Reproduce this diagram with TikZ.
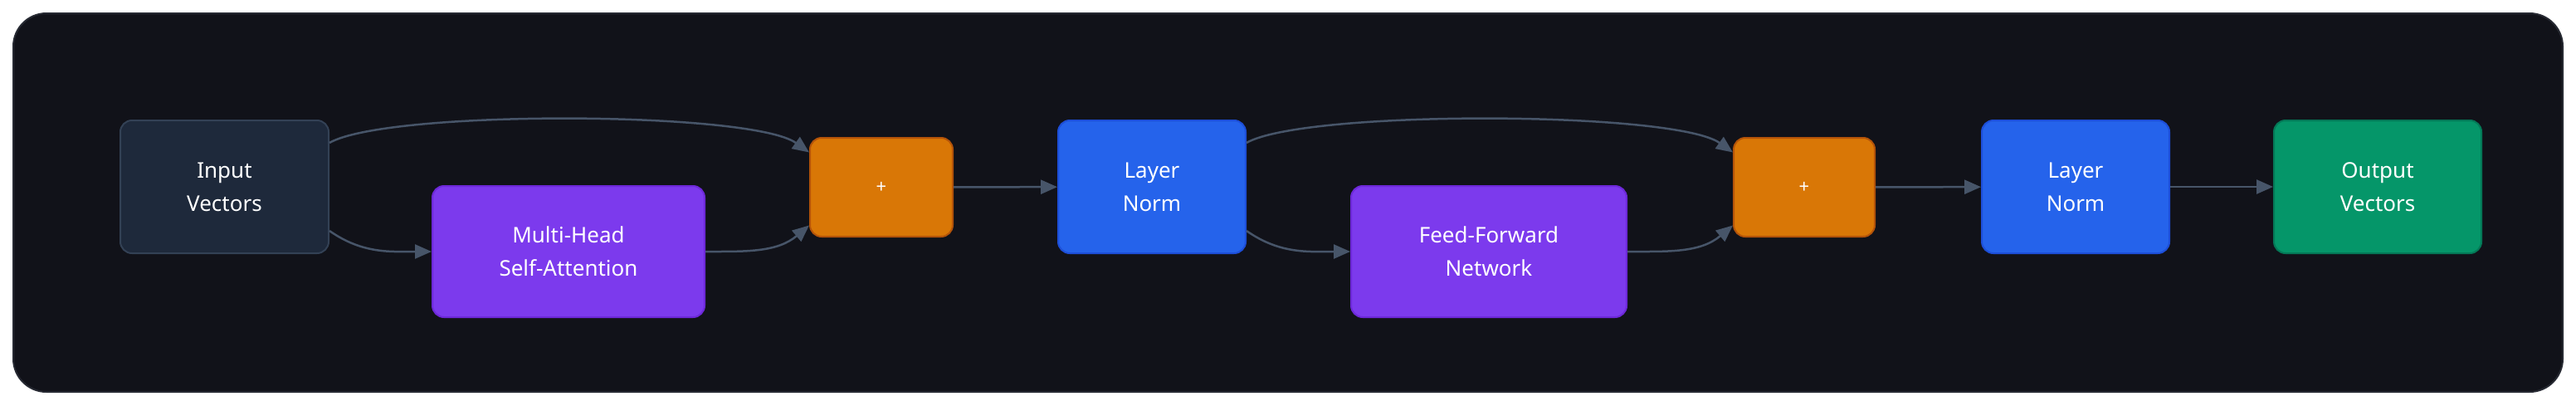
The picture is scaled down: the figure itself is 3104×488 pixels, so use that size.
\documentclass[tikz,border=0pt]{standalone}
\usepackage{fontspec}
\setmainfont{Noto Sans}
\usetikzlibrary{arrows.meta}

\definecolor{panelbg}{HTML}{111219}
\definecolor{panelline}{HTML}{262932}
\definecolor{edgegray}{HTML}{475569}
\definecolor{inputfill}{HTML}{1E293B}
\definecolor{inputline}{HTML}{334155}
\definecolor{attnfill}{HTML}{7C3AED}
\definecolor{attnline}{HTML}{6D28D9}
\definecolor{addfill}{HTML}{D97706}
\definecolor{addline}{HTML}{B45309}
\definecolor{normfill}{HTML}{2563EB}
\definecolor{normline}{HTML}{1D4ED8}
\definecolor{outfill}{HTML}{059669}
\definecolor{outline}{HTML}{047857}

\tikzset{
  box/.style={rounded corners=14pt, line width=2pt, text=white,
    font=\fontsize{26}{40}\selectfont, align=center, inner sep=0pt},
  edge/.style={draw=edgegray, line width=2.5pt,
    -{Triangle[length=20pt,width=17pt]}},
}

\begin{document}
\begin{tikzpicture}[x=1pt,y=-1pt]
  \useasboundingbox (0,0) rectangle (3104,488);
  \fill[white] (0,0) rectangle (3104,488);
  \filldraw[fill=panelbg, draw=panelline, line width=2pt, rounded corners=40pt] (16,16) rectangle (3088,472);

  % blocks
  \node[box, fill=inputfill, draw=inputline, minimum width=251pt, minimum height=160pt] (in) at (270.5,225) {Input\\Vectors};
  \node[box, fill=attnfill, draw=attnline, minimum width=328pt, minimum height=158pt] (mhsa) at (685,303) {Multi-Head\\Self-Attention};
  \node[box, fill=addfill, draw=addline, minimum width=172pt, minimum height=119pt, font=\fontsize{22}{26}\selectfont] (add1) at (1062,225.5) {+};
  \node[box, fill=normfill, draw=normline, minimum width=226pt, minimum height=160pt] (ln1) at (1388,225) {Layer\\Norm};
  \node[box, fill=attnfill, draw=attnline, minimum width=332pt, minimum height=158pt] (ffn) at (1794,303) {Feed-Forward\\Network};
  \node[box, fill=addfill, draw=addline, minimum width=170pt, minimum height=119pt, font=\fontsize{22}{26}\selectfont] (add2) at (2174,225.5) {+};
  \node[box, fill=normfill, draw=normline, minimum width=226pt, minimum height=160pt] (ln2) at (2501,225) {Layer\\Norm};
  \node[box, fill=outfill, draw=outline, minimum width=250pt, minimum height=160pt] (out) at (2865,225) {Output\\Vectors};

  % residual paths
  \draw[edge] ([yshift=53pt]in.east) .. controls +(70pt,40pt) and +(-70pt,50pt) .. ([yshift=42pt]add1.west);
  \draw[edge] ([yshift=-53pt]in.east) to[out=-35,in=180] (mhsa.west);
  \draw[edge] (mhsa.east) to[out=0,in=-140] ([yshift=-46pt]add1.west);
  \draw[edge] (add1) -- (ln1);
  \draw[edge] ([yshift=53pt]ln1.east) .. controls +(70pt,40pt) and +(-70pt,50pt) .. ([yshift=42pt]add2.west);
  \draw[edge] ([yshift=-53pt]ln1.east) to[out=-35,in=180] (ffn.west);
  \draw[edge] (ffn.east) to[out=0,in=-140] ([yshift=-46pt]add2.west);
  \draw[edge] (add2) -- (ln2);
  \draw[edge] (ln2) -- (out);
\end{tikzpicture}
\end{document}
